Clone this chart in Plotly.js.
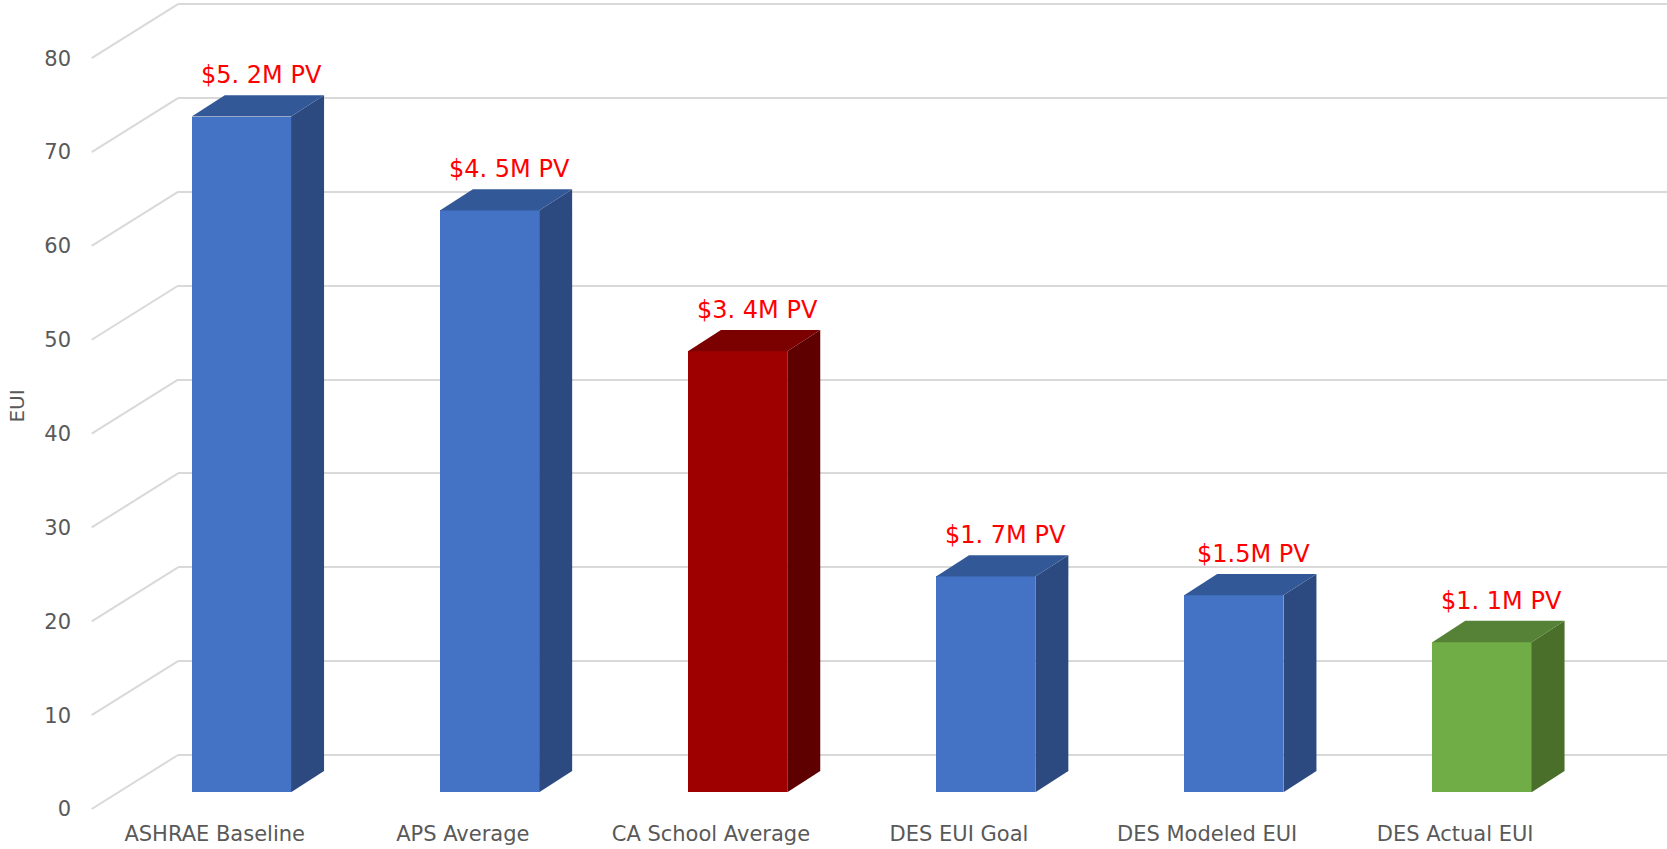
<!DOCTYPE html>
<html><head><meta charset="utf-8">
<script src="https://cdn.plot.ly/plotly-3.0.1.min.js"></script>
<style>html,body{margin:0;padding:0;background:#fff}#chart{width:1667px;height:849px}</style>
</head><body><div id="chart"></div>
<script>
// ---- data ----
const categories = ["ASHRAE Baseline", "APS Average", "CA School Average", "DES EUI Goal", "DES Modeled EUI", "DES Actual EUI"];
const euiValues = [72, 62, 47, 23, 21, 16];
const pvLabels = ["$5. 2M PV", "$4. 5M PV", "$3. 4M PV", "$1. 7M PV", "$1.5M PV", "$1. 1M PV"];
const yTickValues = [0, 10, 20, 30, 40, 50, 60, 70, 80];

// ---- styles ----
const palette = {
  blue:  {front: "#4472C4", side: "#2C4A80", top: "#335897"},
  red:   {front: "#9E0000", side: "#5F0000", top: "#7B0000"},
  green: {front: "#70AD47", side: "#4A6F2B", top: "#568237"}
};
const barStyle = ["blue", "blue", "red", "blue", "blue", "green"];

// ---- geometry (pixels) ----
const W = 1667, H = 849, L = 178, R = 0, T = 0, B = 37;
const plotW = W - L - R, plotH = H - T - B;
const pxPerUnit = 9.385;
const catStep = 248.1;
const firstCatPx = 214.7;
const labelZeroPx = 809;
const frontDepth = {dx: 26.7, dy: 16.7};
const barDepth = {dx: 33, dy: 21.3};
const backDepth = {dx: 86.3, dy: 54};
const barWidthPx = 99.3;

function yRangeFor(dy) {
  const zero = labelZeroPx - dy;
  return [(zero - (T + plotH)) / pxPerUnit, (zero - T) / pxPerUnit];
}
const xRange = [(L - firstCatPx) / catStep, (L + plotW - firstCatPx) / catStep];

const idx = categories.map((c, i) => i);
const bw = barWidthPx / catStep;
const bOff = -bw / 2 + frontDepth.dx / catStep;
const ddx = barDepth.dx / catStep;
const ddy = barDepth.dy / pxPerUnit;

const gray = "#595959";
const fontFam = "DejaVu Sans, sans-serif";

const traces = [{
  type: "bar",
  x: idx,
  y: euiValues,
  width: idx.map(() => bw),
  offset: idx.map(() => bOff),
  yaxis: "y2",
  marker: {color: barStyle.map(s => palette[s].front), line: {width: 0}},
  hoverinfo: "skip",
  showlegend: false
}];

const shapes = [];
// floor-side diagonal lines from label plane to back wall
yTickValues.forEach(v => {
  shapes.push({
    type: "path", xref: "paper", yref: "y", layer: "below",
    path: `M ${-backDepth.dx / plotW},${v} L 0,${v + backDepth.dy / pxPerUnit}`,
    line: {color: "#D9D9D9", width: 2}
  });
});
// 3D faces of bars
euiValues.forEach((v, i) => {
  const xl = i + bOff, xr = xl + bw;
  const c = palette[barStyle[i]];
  shapes.push({
    type: "path", xref: "x", yref: "y2", layer: "above",
    path: `M ${xr},0 L ${xr},${v} L ${xr + ddx},${v + ddy} L ${xr + ddx},${ddy} Z`,
    fillcolor: c.side, line: {width: 0}
  });
  shapes.push({
    type: "path", xref: "x", yref: "y2", layer: "above",
    path: `M ${xl},${v} L ${xr},${v} L ${xr + ddx},${v + ddy} L ${xl + ddx},${v + ddy} Z`,
    fillcolor: c.top, line: {width: 0}
  });
});

const annotations = euiValues.map((v, i) => ({
  x: i + bOff + bw / 2, y: v, xref: "x", yref: "y2",
  text: pvLabels[i], showarrow: false,
  xanchor: "center", yanchor: "bottom",
  xshift: barDepth.dx * 0.6, yshift: barDepth.dy + 4,
  font: {family: fontFam, size: 24, color: "#FF0000"}
}));

const layout = {
  width: W, height: H,
  margin: {l: L, r: R, t: T, b: B, pad: 0},
  paper_bgcolor: "#FFFFFF", plot_bgcolor: "rgba(0,0,0,0)",
  showlegend: false,
  xaxis: {
    type: "linear", range: xRange, tickmode: "array",
    tickvals: idx, ticktext: categories,
    showgrid: false, zeroline: false, showline: false, ticks: "",
    ticklabelstandoff: 7,
    tickfont: {family: fontFam, size: 21, color: gray}
  },
  yaxis: {
    range: yRangeFor(0), tickmode: "array", tickvals: yTickValues,
    showgrid: false, zeroline: false, showline: false, ticks: "",
    ticklabelstandoff: 106,
    tickfont: {family: fontFam, size: 21, color: gray},
    title: {text: "EUI", font: {family: fontFam, size: 20, color: gray}, standoff: 14}
  },
  yaxis2: {
    range: yRangeFor(frontDepth.dy), overlaying: "y",
    showgrid: false, zeroline: false, showline: false, showticklabels: false, ticks: ""
  },
  yaxis3: {
    range: yRangeFor(backDepth.dy), overlaying: "y", tickmode: "array", tickvals: yTickValues,
    showgrid: true, gridcolor: "#D9D9D9", gridwidth: 2,
    zeroline: false, showline: false, showticklabels: false, ticks: ""
  },
  shapes: shapes,
  annotations: annotations,
  bargap: 0
};

// invisible trace so the back-wall grid axis is drawn
traces.unshift({type: "scatter", x: [idx[0]], y: [0], yaxis: "y3", mode: "markers",
  marker: {opacity: 0}, hoverinfo: "skip", showlegend: false});

Plotly.newPlot("chart", traces, layout, {staticPlot: true, displayModeBar: false});
</script>
</body></html>
